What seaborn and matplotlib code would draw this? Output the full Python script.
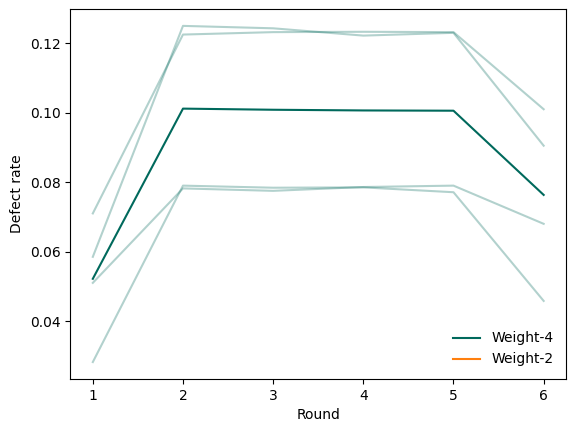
import pandas as pd
import seaborn as sns
import matplotlib
matplotlib.use("Agg")
import matplotlib.pyplot as plt

# Per-seed defect rates for the Weight-4 run
rounds = [1, 2, 3, 4, 5, 6]
seed_a = [0.0710, 0.1225, 0.1232, 0.1233, 0.1232, 0.1010]
seed_b = [0.0585, 0.1250, 0.1243, 0.1222, 0.1230, 0.0905]
seed_c = [0.0510, 0.0782, 0.0775, 0.0786, 0.0790, 0.0680]
seed_d = [0.0282, 0.0790, 0.0784, 0.0785, 0.0771, 0.0458]

seeds = {"a": seed_a, "b": seed_b, "c": seed_c, "d": seed_d}
df = pd.DataFrame(
    [(s, r, v) for s, vals in seeds.items() for r, v in zip(rounds, vals)],
    columns=["seed", "round", "defect"],
)

teal = "#00695c"

fig, ax = plt.subplots(figsize=(5.76, 4.32), dpi=100)

# faint per-seed lines
sns.lineplot(
    data=df, x="round", y="defect", units="seed", estimator=None,
    color=teal, alpha=0.3, linewidth=1.5, ax=ax, legend=False
)

# mean line
sns.lineplot(
    data=df, x="round", y="defect", errorbar=None,
    color=teal, linewidth=1.5, ax=ax, label="Weight-4"
)

# Weight-2 has no data shown, only a legend entry
ax.plot([], [], color="#ff7f0e", label="Weight-2")

ax.set_xlabel("Round")
ax.set_ylabel("Defect rate")
ax.set_xticks(rounds)
ax.legend(loc="lower right", frameon=False)

fig.subplots_adjust(left=0.122, right=0.983, top=0.979, bottom=0.123)
plt.savefig("out.png")
